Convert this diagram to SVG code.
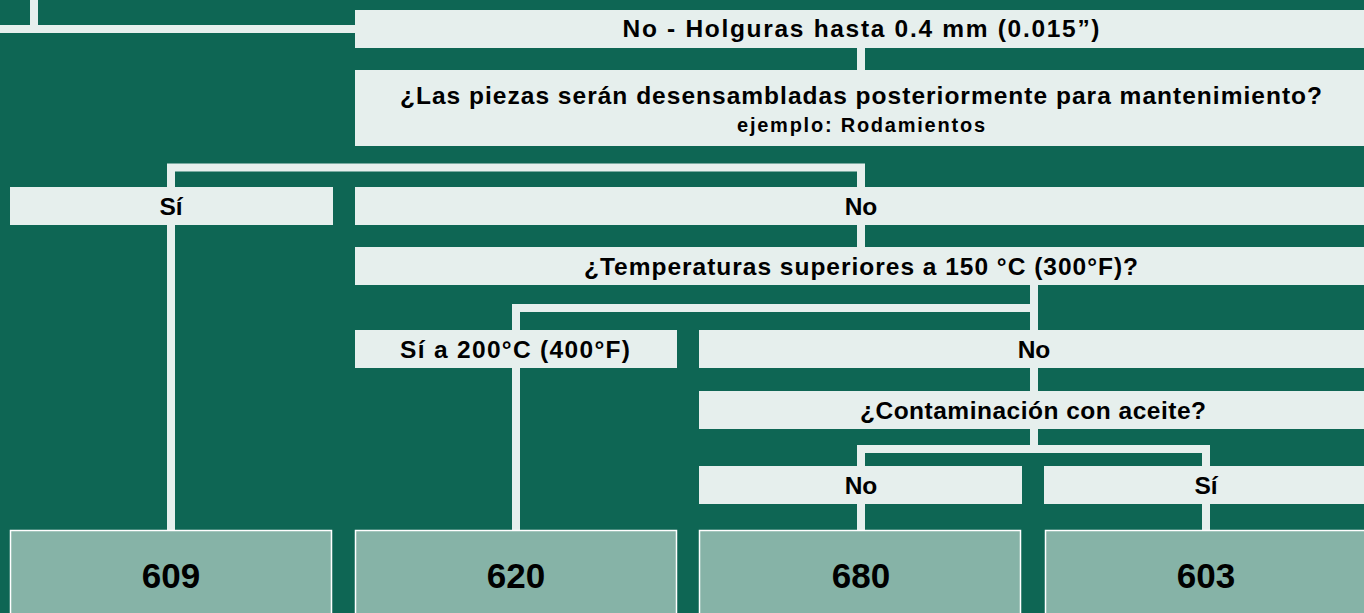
<svg xmlns="http://www.w3.org/2000/svg" width="1364" height="613" viewBox="0 0 1364 613">
<style>
.bg{fill:#0E6654}
.box{fill:#E6EFED}
.res{fill:#86B3A7;stroke:#FFFFFF;stroke-width:1.5}
.ln{fill:none;stroke:#E6EFED;stroke-width:8;stroke-linecap:square;stroke-linejoin:miter}
.t{font-family:"Liberation Sans",Arial,sans-serif;font-weight:bold;font-size:24.5px;fill:#000;text-anchor:middle}
.s{font-size:20px}
.n{font-size:35px}
</style>
<rect class="bg" x="0" y="0" width="1364" height="613"/>
<g id="connectors">
<path class="ln" d="M-4,29 H355 M34,-4 V29"/>
<path class="ln" d="M861,48 V70"/>
<path class="ln" d="M171,530 V167.5 H861 V247"/>
<path class="ln" d="M516,530 V308 H1034 M1034,285 V391"/>
<path class="ln" d="M1034,429 V449 M861,530 V449 H1206 V530"/>
</g>
<g id="q-holguras">
<rect class="box" x="355" y="10" width="1015" height="38"/>
<text class="t" x="861" y="37" textLength="477" lengthAdjust="spacing">No - Holguras hasta 0.4 mm (0.015”)</text>
</g>
<g id="q-desensambladas">
<rect class="box" x="355" y="70" width="1015" height="76"/>
<text class="t" x="861" y="104" textLength="922" lengthAdjust="spacing">¿Las piezas serán desensambladas posteriormente para mantenimiento?</text>
<text class="t s" x="861" y="132" textLength="248" lengthAdjust="spacing">ejemplo: Rodamientos</text>
</g>
<g id="a-si-1">
<rect class="box" x="10" y="187" width="323" height="38"/>
<text class="t" x="171" y="215">Sí</text>
</g>
<g id="a-no-1">
<rect class="box" x="355" y="187" width="1015" height="38"/>
<text class="t" x="861" y="215">No</text>
</g>
<g id="q-temperaturas">
<rect class="box" x="355" y="247" width="1015" height="38"/>
<text class="t" x="861" y="275" textLength="554" lengthAdjust="spacing">¿Temperaturas superiores a 150 °C (300°F)?</text>
</g>
<g id="a-si-200">
<rect class="box" x="355" y="330" width="322" height="38"/>
<text class="t" x="515" y="358" textLength="230" lengthAdjust="spacing">Sí a 200°C (400°F)</text>
</g>
<g id="a-no-2">
<rect class="box" x="699" y="330" width="671" height="38"/>
<text class="t" x="1034" y="358">No</text>
</g>
<g id="q-contaminacion">
<rect class="box" x="699" y="391" width="671" height="38"/>
<text class="t" x="1033" y="419" textLength="346" lengthAdjust="spacing">¿Contaminación con aceite?</text>
</g>
<g id="a-no-3">
<rect class="box" x="699" y="466" width="323" height="38"/>
<text class="t" x="861" y="494">No</text>
</g>
<g id="a-si-3">
<rect class="box" x="1044" y="466" width="326" height="38"/>
<text class="t" x="1206" y="494">Sí</text>
</g>
<g id="r-609">
<rect class="res" x="10.5" y="530.5" width="321" height="100"/>
<text class="t n" x="171" y="588">609</text>
</g>
<g id="r-620">
<rect class="res" x="355.5" y="530.5" width="321" height="100"/>
<text class="t n" x="516" y="588">620</text>
</g>
<g id="r-680">
<rect class="res" x="699.5" y="530.5" width="321" height="100"/>
<text class="t n" x="861" y="588">680</text>
</g>
<g id="r-603">
<rect class="res" x="1045.5" y="530.5" width="325" height="100"/>
<text class="t n" x="1206" y="588">603</text>
</g>
</svg>
